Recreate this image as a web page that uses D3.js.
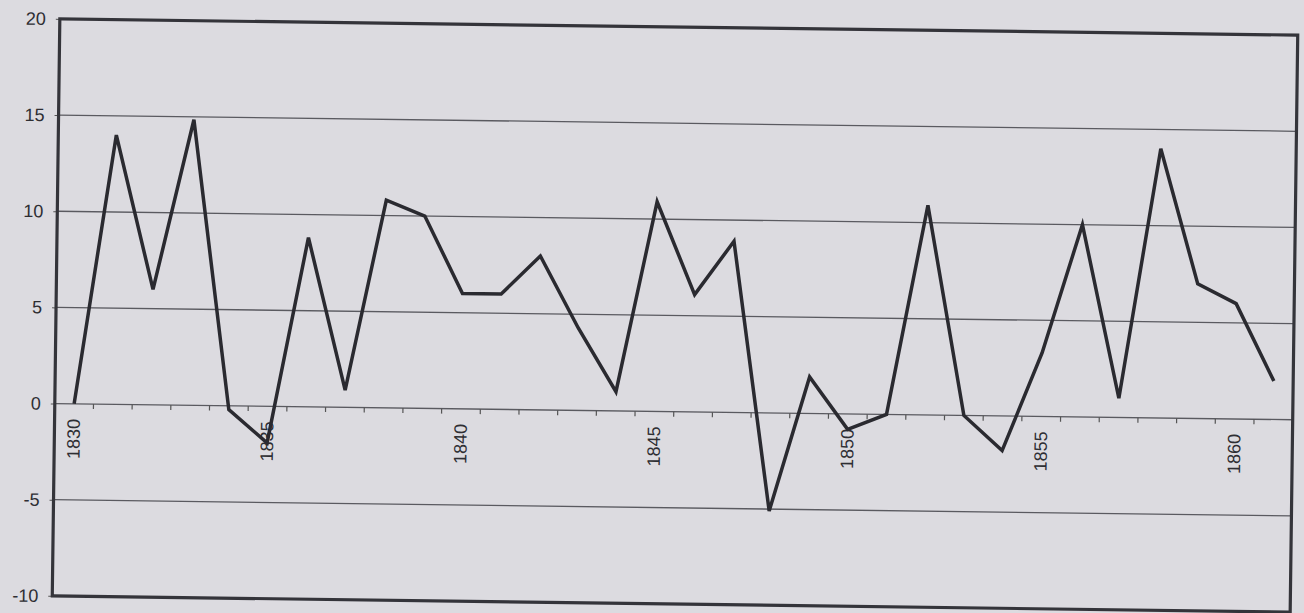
<!DOCTYPE html>
<html>
<head>
<meta charset="utf-8">
<script src="https://cdnjs.cloudflare.com/ajax/libs/d3/7.8.5/d3.min.js"></script>
<style>
    body { margin: 0; background: #dcdbe0; }
    svg { display: block; }
    .ylab, .xlab { font-family: "Liberation Sans", Arial, sans-serif; font-size: 18px; fill: #2e2e33; }
</style>
</head>
<body>
<div id="figure"></div>
<script>
// yearly values
var years = [1830, 1831, 1832, 1833, 1834, 1835, 1836, 1837, 1838, 1839,
             1840, 1841, 1842, 1843, 1844, 1845, 1846, 1847, 1848, 1849,
             1850, 1851, 1852, 1853, 1854, 1855, 1856, 1857, 1858, 1859,
             1860, 1861];
var values = [0, 14, 6, 14.85, -0.2, -1.9, 8.8, 0.9, 10.8, 10,
              6, 6, 8, 4.3, 1, 10.9, 6.1, 8.9, -5.1, 1.9,
              -0.8, 0, 10.9, 0, -1.8, 3.3, 10, 1, 14, 7,
              6, 2];
var yTicks = [-10, -5, 0, 5, 10, 15, 20];
var xLabels = [1830, 1835, 1840, 1845, 1850, 1855, 1860];

var w = 1304;
var h = 613;
// "top" is taken by window.top, so padTop
var padLeft = 56, padTop = 27, pw = 1238, ph = 577;

var data = years.map(function(y, i) { return { year: y, v: values[i] }; });

var svg = d3.select("#figure")
    .append("svg")
    .attr("width", w)
    .attr("height", h);

svg.append("rect").attr("width", w).attr("height", h).attr("fill", "#dcdbe0");

// the scan is a little skewed, turn the whole chart with it
var g = svg.append("g")
    .attr("transform", "rotate(0.75," + (padLeft + pw / 2) + "," + (padTop + ph / 2) + ")");

var xScale = d3.scaleBand()
    .domain(years)
    .range([padLeft, padLeft + pw]);

var yScale = d3.scaleLinear()
    .domain([-10, 20])
    .range([padTop + ph, padTop]);

function px(d) {
    return xScale(d) + xScale.bandwidth() / 2;
}

// grid lines
g.selectAll(".grid")
    .data(yTicks.filter(function(t) { return t > -10 && t < 20; }))
    .enter()
    .append("line")
    .attr("x1", padLeft)
    .attr("x2", padLeft + pw)
    .attr("y1", function(d) { return yScale(d); })
    .attr("y2", function(d) { return yScale(d); })
    .attr("stroke", "#5a5a60")
    .attr("stroke-width", 1.3);

// y axis (labels + small outer ticks), plain hyphen for negatives
var yAxis = d3.axisLeft(yScale)
    .tickValues(yTicks)
    .tickFormat(function(d) { return String(d); })
    .tickSize(4)
    .tickPadding(10);

var ya = g.append("g")
    .attr("transform", "translate(" + padLeft + ",0)")
    .call(yAxis);
ya.select(".domain").remove();
ya.selectAll("line").attr("stroke", "#555");
ya.selectAll("text").attr("class", "ylab").attr("fill", null);
ya.attr("font-size", null).attr("font-family", null);

// category ticks along the zero line
var bounds = years.slice(1);
g.selectAll(".ctick")
    .data(bounds)
    .enter()
    .append("line")
    .attr("x1", function(d) { return xScale(d); })
    .attr("x2", function(d) { return xScale(d); })
    .attr("y1", yScale(0))
    .attr("y2", yScale(0) + 5)
    .attr("stroke", "#555")
    .attr("stroke-width", 1.2);

g.selectAll(".xlab")
    .data(xLabels)
    .enter()
    .append("text")
    .attr("class", "xlab")
    .attr("text-anchor", "end")
    .attr("transform", function(d) {
        return "translate(" + (px(d) + 6) + "," + (yScale(0) + 15) + ") rotate(-90)";
    })
    .text(function(d) { return d; });

// frame
g.append("rect")
    .attr("x", padLeft)
    .attr("y", padTop)
    .attr("width", pw)
    .attr("height", ph)
    .attr("fill", "none")
    .attr("stroke", "#34343a")
    .attr("stroke-width", 3.2);

// the series
g.append("path")
    .datum(data)
    .attr("fill", "none")
    .attr("stroke", "#2a2a30")
    .attr("stroke-width", 3.5)
    .attr("stroke-linejoin", "miter")
    .attr("d", d3.line()
        .x(function(d) { return px(d.year); })
        .y(function(d) { return yScale(d.v); }));
</script>
</body>
</html>
